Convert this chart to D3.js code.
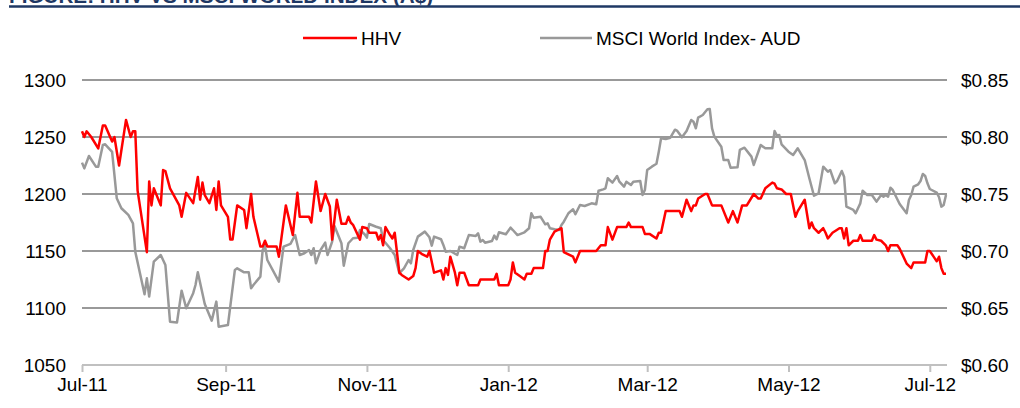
<!DOCTYPE html>
<html><head><meta charset="utf-8">
<script src="https://cdn.jsdelivr.net/npm/d3@7"></script>
<style>body{margin:0;background:#fff}svg{display:block}text{font-family:"Liberation Sans",Arial,sans-serif}</style>
</head><body><svg id="c" width="1020" height="408"></svg>
<script>
const titleText = "FIGURE: HHV VS MSCI WORLD INDEX (A$)";
const seriesNames = ["HHV", "MSCI World Index- AUD"];
const xTickLabels = ["Jul-11","Sep-11","Nov-11","Jan-12","Mar-12","May-12","Jul-12"];
const xTickDates = ["2011-07-01","2011-09-01","2011-11-01","2012-01-01","2012-03-01","2012-05-01","2012-07-01"];
const leftTicks = [1050,1100,1150,1200,1250,1300];
const rightTicks = [0.60,0.65,0.70,0.75,0.80,0.85];

const hhvDates = [
"2011-07-01","2011-07-02","2011-07-03","2011-07-05","2011-07-08","2011-07-10","2011-07-11","2011-07-14","2011-07-15","2011-07-17","2011-07-20","2011-07-22","2011-07-23","2011-07-24","2011-07-25","2011-07-29","2011-07-30","2011-07-31",
"2011-08-01","2011-08-04","2011-08-05","2011-08-06","2011-08-08","2011-08-12","2011-08-13","2011-08-15","2011-08-18","2011-08-20","2011-08-21","2011-08-22","2011-08-23","2011-08-25","2011-08-27","2011-08-28","2011-08-29","2011-08-30",
"2011-09-02","2011-09-03","2011-09-04","2011-09-06","2011-09-09","2011-09-10","2011-09-12","2011-09-13","2011-09-16","2011-09-17","2011-09-18","2011-09-19","2011-09-23","2011-09-24","2011-09-27","2011-09-30",
"2011-10-02","2011-10-03","2011-10-07","2011-10-08","2011-10-10","2011-10-12","2011-10-14","2011-10-16","2011-10-17","2011-10-19","2011-10-21","2011-10-23","2011-10-24","2011-10-25","2011-10-26","2011-10-29","2011-10-30",
"2011-11-01","2011-11-02","2011-11-05","2011-11-06","2011-11-07","2011-11-08","2011-11-09","2011-11-11","2011-11-12","2011-11-13","2011-11-15","2011-11-16","2011-11-19","2011-11-21","2011-11-22","2011-11-23","2011-11-25","2011-11-27","2011-11-28","2011-11-30",
"2011-12-03","2011-12-04","2011-12-05","2011-12-06","2011-12-07","2011-12-09","2011-12-10","2011-12-11","2011-12-13","2011-12-15","2011-12-19","2011-12-20","2011-12-26","2011-12-27","2011-12-28",
"2012-01-01","2012-01-02","2012-01-03","2012-01-04","2012-01-06","2012-01-08","2012-01-09","2012-01-11","2012-01-12","2012-01-16","2012-01-17","2012-01-18","2012-01-19","2012-01-21","2012-01-24","2012-01-25","2012-01-29","2012-01-30",
"2012-02-01","2012-02-08","2012-02-10","2012-02-12","2012-02-13","2012-02-15","2012-02-17","2012-02-21","2012-02-22","2012-02-23","2012-02-28","2012-02-29",
"2012-03-02","2012-03-05","2012-03-06","2012-03-07","2012-03-09","2012-03-15","2012-03-16","2012-03-18","2012-03-20","2012-03-21","2012-03-22","2012-03-23","2012-03-26","2012-03-27","2012-03-29",
"2012-04-02","2012-04-05","2012-04-07","2012-04-09","2012-04-11","2012-04-13","2012-04-16","2012-04-18","2012-04-19","2012-04-21","2012-04-24","2012-04-25","2012-04-26","2012-04-28","2012-04-30",
"2012-05-02","2012-05-04","2012-05-05","2012-05-08","2012-05-10","2012-05-11","2012-05-12","2012-05-14","2012-05-16","2012-05-17","2012-05-18","2012-05-20","2012-05-23","2012-05-24","2012-05-25","2012-05-26","2012-05-27","2012-05-29","2012-05-31",
"2012-06-01","2012-06-02","2012-06-06","2012-06-07","2012-06-08","2012-06-10","2012-06-12","2012-06-13","2012-06-14","2012-06-17","2012-06-18","2012-06-21","2012-06-23","2012-06-24","2012-06-29","2012-06-30",
"2012-07-01","2012-07-03","2012-07-04","2012-07-05","2012-07-06","2012-07-07","2012-07-08"];
const hhvValues = [
0.805,0.800,0.805,0.800,0.790,0.810,0.810,0.796,0.800,0.775,0.815,0.800,0.805,0.805,0.753,0.699,0.761,0.740,
0.755,0.740,0.771,0.770,0.755,0.740,0.730,0.751,0.742,0.765,0.745,0.760,0.749,0.742,0.755,0.736,0.761,0.740,
0.730,0.710,0.710,0.740,0.736,0.720,0.750,0.730,0.704,0.704,0.709,0.704,0.704,0.695,0.740,0.714,
0.751,0.730,0.730,0.725,0.761,0.735,0.750,0.739,0.710,0.745,0.724,0.724,0.730,0.725,0.723,0.710,0.721,
0.720,0.716,0.716,0.710,0.714,0.705,0.721,0.714,0.711,0.716,0.681,0.679,0.675,0.678,0.685,0.700,0.697,0.695,0.700,0.681,
0.683,0.675,0.685,0.679,0.695,0.681,0.670,0.681,0.681,0.670,0.670,0.675,0.675,0.680,0.670,
0.670,0.675,0.690,0.681,0.678,0.675,0.680,0.680,0.685,0.685,0.700,0.700,0.710,0.717,0.720,0.699,0.695,0.690,
0.700,0.700,0.705,0.705,0.721,0.710,0.721,0.721,0.725,0.721,0.721,0.715,
0.715,0.711,0.716,0.716,0.735,0.735,0.730,0.745,0.735,0.740,0.740,0.746,0.750,0.750,0.740,
0.740,0.725,0.735,0.725,0.740,0.740,0.750,0.746,0.746,0.755,0.760,0.759,0.755,0.754,0.750,
0.750,0.730,0.735,0.745,0.720,0.725,0.720,0.716,0.720,0.716,0.711,0.716,0.720,0.720,0.711,0.720,0.705,0.709,0.709,
0.714,0.709,0.709,0.714,0.710,0.709,0.705,0.700,0.705,0.705,0.702,0.689,0.685,0.690,0.690,0.700,
0.700,0.694,0.691,0.695,0.685,0.680,0.680];

const msciDates = [
"2011-07-01","2011-07-02","2011-07-04","2011-07-07","2011-07-08","2011-07-10","2011-07-11","2011-07-14","2011-07-16","2011-07-18","2011-07-21","2011-07-23","2011-07-24","2011-07-28","2011-07-29","2011-07-30",
"2011-08-01","2011-08-04","2011-08-06","2011-08-08","2011-08-11","2011-08-13","2011-08-15","2011-08-18","2011-08-19","2011-08-20","2011-08-23","2011-08-26","2011-08-28","2011-08-29",
"2011-09-02","2011-09-05","2011-09-06","2011-09-09","2011-09-11","2011-09-12","2011-09-13","2011-09-16","2011-09-17","2011-09-18","2011-09-19","2011-09-24","2011-09-26","2011-09-29",
"2011-10-01","2011-10-03","2011-10-05","2011-10-07","2011-10-08","2011-10-09","2011-10-10","2011-10-12","2011-10-14","2011-10-15","2011-10-17","2011-10-18","2011-10-21","2011-10-22","2011-10-24","2011-10-26","2011-10-28","2011-10-29","2011-10-31",
"2011-11-01","2011-11-02","2011-11-05","2011-11-07","2011-11-08","2011-11-11","2011-11-13","2011-11-15","2011-11-17","2011-11-19","2011-11-20","2011-11-21","2011-11-23","2011-11-26","2011-11-28","2011-11-29","2011-11-30",
"2011-12-03","2011-12-04","2011-12-05","2011-12-07","2011-12-10","2011-12-11","2011-12-13","2011-12-15","2011-12-18","2011-12-19","2011-12-20","2011-12-21","2011-12-22","2011-12-25","2011-12-26","2011-12-27","2011-12-28","2011-12-31",
"2012-01-02","2012-01-03","2012-01-05","2012-01-08","2012-01-10","2012-01-11","2012-01-12","2012-01-15","2012-01-17","2012-01-18","2012-01-19","2012-01-21","2012-01-23","2012-01-24","2012-01-25","2012-01-27","2012-01-29","2012-01-30",
"2012-02-01","2012-02-03","2012-02-06","2012-02-08","2012-02-09","2012-02-11","2012-02-12","2012-02-13","2012-02-15","2012-02-17","2012-02-18","2012-02-20","2012-02-21","2012-02-23","2012-02-24","2012-02-27","2012-02-28","2012-02-29",
"2012-03-01","2012-03-03","2012-03-05","2012-03-06","2012-03-07","2012-03-09","2012-03-11","2012-03-13","2012-03-14","2012-03-16","2012-03-18","2012-03-20","2012-03-21","2012-03-22","2012-03-23","2012-03-25","2012-03-27","2012-03-28","2012-03-29","2012-03-30",
"2012-04-02","2012-04-03","2012-04-05","2012-04-06","2012-04-09","2012-04-10","2012-04-12","2012-04-15","2012-04-16","2012-04-19","2012-04-21","2012-04-24","2012-04-25","2012-04-26","2012-04-27","2012-04-28",
"2012-05-01","2012-05-03","2012-05-05","2012-05-08","2012-05-10","2012-05-12","2012-05-14","2012-05-16","2012-05-18","2012-05-19","2012-05-21","2012-05-22","2012-05-24","2012-05-25","2012-05-26","2012-05-29","2012-05-30",
"2012-06-01","2012-06-02","2012-06-04","2012-06-06","2012-06-07","2012-06-08","2012-06-10","2012-06-11","2012-06-12","2012-06-13","2012-06-14","2012-06-15","2012-06-18","2012-06-21","2012-06-22","2012-06-23","2012-06-24","2012-06-26","2012-06-27","2012-06-28","2012-06-29","2012-06-30",
"2012-07-01","2012-07-04","2012-07-05","2012-07-06","2012-07-07","2012-07-08"];
const msciValues = [
1227.5,1222.5,1233.3,1224,1224,1243,1243.6,1237,1196.3,1187.5,1181.6,1174.3,1149.4,1112,1126,1110,
1140.7,1146.5,1137.7,1088,1087.2,1115.2,1099.8,1113,1120.2,1131.3,1103.5,1088.9,1105.6,1083.6,
1085,1133.4,1134.8,1131.3,1131.3,1117.3,1120.2,1127.5,1150.9,1154.7,1142.1,1123.1,1153.8,1156.2,
1164,1146.5,1148,1150.9,1146.5,1152.4,1139.2,1150.9,1157.3,1146.5,1158.2,1172,1156.8,1137.1,1156.8,1161.2,1161.7,1168.4,1164.7,
1161.7,1173.7,1171.3,1170,1159.7,1152.4,1146.5,1130.5,1134.8,1142.1,1139.2,1150.9,1162.6,1167,1162,1154.7,1162.6,
1160.3,1155.3,1149.4,1150,1146.5,1153.8,1152.4,1164,1163.2,1165.5,1158.2,1159.7,1157.3,1158.8,1163.5,1160.3,1166.4,1164.7,
1170.5,1168.4,1164,1166.4,1170,1183.1,1179.2,1180,1173.4,1174.3,1170,1169.1,1168.4,1172.8,1175.7,1183.1,1186.6,1182.2,
1190.4,1189.5,1191.8,1191,1202.9,1204.1,1205,1213.8,1210,1215.8,1210.8,1206.4,1210.8,1207.9,1210.8,1211.4,1199.1,1203.5,
1221,1224,1226.5,1237.1,1248.9,1248.3,1249.4,1256.4,1255.3,1249.7,1255.3,1264.9,1263.4,1257.6,1267,1269.3,1274.3,1274.6,1257.6,1250.3,
1241.5,1229.8,1229.8,1223.1,1223.4,1238.6,1240.6,1232.8,1225.5,1243,1240.1,1240.1,1255.3,1251.2,1251.8,1243.6,
1237.1,1234.2,1240.1,1229.8,1213.8,1198.5,1200.6,1224,1219.6,1221.1,1209.4,1211.4,1220.2,1215.2,1188.9,1186,1183.1,
1191.8,1202.9,1199.1,1199.1,1196.3,1193.3,1199.1,1197.7,1199.1,1197.7,1205.5,1203.5,1191.2,1183.1,1194.8,1199.1,1206.4,1208.5,1211.4,1217.6,1215.8,1209.4,
1204.4,1201.2,1197.1,1188.9,1190.4,1199.1];

const parse = d3.timeParse("%Y-%m-%d");
const svg = d3.select("#c");
const L = 82, R = 946, T = 80, B = 365;

const x = d3.scaleTime().domain([parse(hhvDates[0]), parse(hhvDates[hhvDates.length-1])]).range([L, R]);
const yL = d3.scaleLinear().domain([1050, 1300]).range([B, T]);
const yR = d3.scaleLinear().domain([0.60, 0.85]).range([B, T]);

// title (cropped at the top edge, as in the source image)
svg.append("text").attr("x", 9).attr("y", 3).attr("font-size", 20.7).attr("font-weight", "bold")
  .attr("fill", "#1f3864").text(titleText);
svg.append("line").attr("x1", 9).attr("x2", 1020).attr("y1", 6.5).attr("y2", 6.5)
  .attr("stroke", "#1f3864").attr("stroke-width", 2.5);

// gridlines
svg.append("g").selectAll("line").data(leftTicks.filter(d => d > 1050)).join("line")
  .attr("x1", L).attr("x2", R + 1).attr("y1", d => yL(d)).attr("y2", d => yL(d))
  .attr("stroke", "#999999").attr("stroke-width", 2);

// x axis
const xAxis = d3.axisBottom(x).tickValues(xTickDates.map(parse))
  .tickFormat((d, i) => xTickLabels[i]).tickSizeInner(7).tickSizeOuter(0).tickPadding(6);
const gx = svg.append("g").attr("transform", `translate(0,${B})`).call(xAxis);
gx.select(".domain").attr("stroke", "#c0c0c0").attr("stroke-width", 2).attr("d", `M${L},0H${R + 1}`);
gx.selectAll(".tick line").attr("stroke", "#c0c0c0").attr("stroke-width", 2);
gx.selectAll(".tick text").attr("font-size", 19).attr("fill", "#000").attr("font-family", "Liberation Sans, Arial, sans-serif");

// left axis labels
const gl = svg.append("g").attr("transform", `translate(${L},0)`)
  .call(d3.axisLeft(yL).tickValues(leftTicks).tickFormat(d3.format("d")).tickSize(0).tickPadding(16));
gl.select(".domain").remove();
gl.selectAll(".tick text").attr("font-size", 19).attr("fill", "#000").attr("font-family", "Liberation Sans, Arial, sans-serif");

// right axis labels
const gr = svg.append("g").attr("transform", `translate(${R + 1},0)`)
  .call(d3.axisRight(yR).tickValues(rightTicks).tickFormat(d => "$" + d3.format(".2f")(d)).tickSize(0).tickPadding(14));
gr.select(".domain").remove();
gr.selectAll(".tick text").attr("font-size", 19).attr("fill", "#000").attr("font-family", "Liberation Sans, Arial, sans-serif");

// lines
const msciData = msciDates.map((d, i) => [parse(d), msciValues[i]]);
const hhvData = hhvDates.map((d, i) => [parse(d), hhvValues[i]]);
svg.append("path").datum(msciData)
  .attr("d", d3.line().x(d => x(d[0])).y(d => yL(d[1])))
  .attr("fill", "none").attr("stroke", "#999999").attr("stroke-width", 2.5).attr("stroke-linejoin", "round");
svg.append("path").datum(hhvData)
  .attr("d", d3.line().x(d => x(d[0])).y(d => yR(d[1])))
  .attr("fill", "none").attr("stroke", "#ff0000").attr("stroke-width", 2.5).attr("stroke-linejoin", "round");

// legend
const legend = [
  {name: seriesNames[0], color: "#ff0000", x1: 303, x2: 357},
  {name: seriesNames[1], color: "#999999", x1: 540, x2: 592}
];
const lg = svg.append("g");
legend.forEach(l => {
  lg.append("line").attr("x1", l.x1).attr("x2", l.x2).attr("y1", 38).attr("y2", 38)
    .attr("stroke", l.color).attr("stroke-width", 2.5);
  lg.append("text").attr("x", l.x2 + 4).attr("y", 38).attr("dy", "0.35em").attr("font-size", 19)
    .attr("fill", "#000").text(l.name);
});
</script></body></html>
